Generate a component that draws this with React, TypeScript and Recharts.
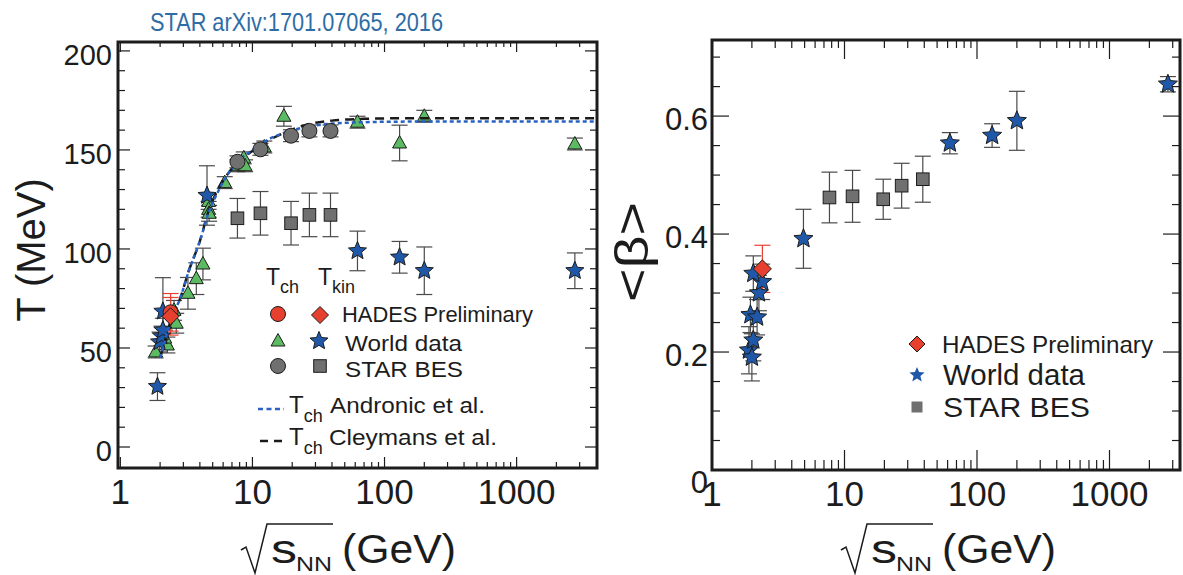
import { ScatterChart, Scatter, XAxis, YAxis, ErrorBar } from 'recharts'

const FONT = '"Liberation Sans", Arial, Helvetica, sans-serif'
const INK = '#1c1c1c'
const GREEN = '#5cba62'
const BLUE = '#1f58a8'
const RED = '#e8402f'
const GREY = '#707070'
const ERR = '#4a4a4a'

// log x ticks shared by both panels
const xTicks = [1, 2, 3, 4, 5, 6, 7, 8, 9, 10, 20, 30, 40, 50, 60, 70, 80, 90, 100, 200, 300, 400, 500, 600, 700, 800, 900, 1000, 2000, 3000]
const xLabels = [1, 10, 100, 1000]

// left panel: temperature
const tTicks = [0, 10, 20, 30, 40, 50, 60, 70, 80, 90, 100, 110, 120, 130, 140, 150, 160, 170, 180, 190, 200]
const tLabels = [0, 50, 100, 150, 200]

// T_ch world data (triangles)
const chWorldS = [1.85, 2.27, 2.17, 2.65, 2.55, 3.25, 3.76, 4.22, 4.66, 4.66, 4.7, 6.17, 7.7, 8.6, 8.8, 12.3, 17.3, 62.4, 130, 200, 2760]
const chWorldT = [48, 51.5, 55, 62.5, 69, 77.6, 85, 92.4, 124, 120, 118, 133.5, 142, 146, 142, 151.5, 167, 164, 153.5, 167, 153]
const chWorldErr = [3, 4, 4, 5, 5, 8, 8, 8, 4, 4, 4, 3, 3, 3, 3, 3, 5, 3, 9, 3, 3]

// T_kin world data (stars)
const kinWorldS = [1.91, 1.98, 2.05, 2.1, 2.1, 4.53, 62.4, 130, 200, 2760]
const kinWorldT = [30.5, 53, 56, 59, 68.5, 127, 99, 95.8, 89, 89]
const kinWorldErr = [7, 5, 5, 6, 17, 15, 10, 8, 12, 9]

// STAR BES
const besS = [7.7, 11.5, 19.6, 27, 39]
const besChT = [144, 150.3, 157.2, 159.6, 159.6]
const besChErr = [3, 3, 3, 3, 3]
const besKinT = [115.5, 118, 113, 117.2, 117.2]
const besKinErr = [10, 11, 11, 11, 11]

// HADES preliminary
const hadesS = [2.4]
const hadesChT = [68]
const hadesKinT = [66]
const hadesErr = [9.5]

// model curves
const curveS = [2.0, 2.1, 2.5, 2.8, 3.3, 4.0, 4.7, 5.6, 6.7, 8, 10, 13, 18, 25, 40, 70, 150, 400, 4000]
const andronicT = [45, 50, 67, 74, 89, 104, 119, 130, 139, 145, 150, 155, 159, 161.5, 163.3, 164, 164.3, 164.3, 164.3]
const cleymansT = [45, 50, 67, 74, 89, 104, 120, 131, 139, 144.5, 149.5, 154.5, 159, 162.5, 164.8, 165.7, 166, 166, 166]

// right panel: <beta>
const bTicks = [0, 0.05, 0.1, 0.15, 0.2, 0.25, 0.3, 0.35, 0.4, 0.45, 0.5, 0.55, 0.6, 0.65, 0.7]
const bLabels = [0, 0.2, 0.4, 0.6]

const betaWorldS = [1.9, 2.0, 2.05, 1.95, 2.19, 2.26, 2.39, 2.05, 4.9, 62.4, 130, 200, 2760]
const betaWorldB = [0.203, 0.191, 0.22, 0.263, 0.259, 0.3, 0.319, 0.333, 0.392, 0.554, 0.567, 0.592, 0.654]
const betaWorldErr = [0.04, 0.04, 0.035, 0.03, 0.03, 0.03, 0.03, 0.03, 0.05, 0.018, 0.02, 0.05, 0.013]

const betaBesB = [0.462, 0.464, 0.459, 0.482, 0.493]
const betaBesErr = [0.043, 0.044, 0.034, 0.038, 0.039]

const betaHadesB = [0.341]
const betaHadesErr = [0.04]

const zip = (xs: number[], ys: number[], es?: number[]) =>
  xs.map((x, i) => ({ x, y: ys[i], err: es ? es[i] : 0 }))

const isDecade = (v: number) => Math.abs(Math.log10(v) - Math.round(Math.log10(v))) < 1e-6

// marker shapes
function Tri({ cx, cy }: any) {
  return <polygon points={`${cx},${cy - 7.5} ${cx + 7},${cy + 5} ${cx - 7},${cy + 5}`} fill={GREEN} stroke={INK} strokeWidth={1} />
}
function Star({ cx, cy, R = 9.5, fill = BLUE, stroke = INK }: any) {
  const pts: string[] = []
  for (let k = 0; k < 10; k++) {
    const a = -Math.PI / 2 + (k * Math.PI) / 5
    const r = k % 2 === 0 ? R : R * 0.45
    pts.push(`${cx + r * Math.cos(a)},${cy + r * Math.sin(a)}`)
  }
  return <polygon points={pts.join(' ')} fill={fill} stroke={stroke} strokeWidth={1} />
}
function Dot({ cx, cy, fill = GREY }: any) {
  return <circle cx={cx} cy={cy} r={7.5} fill={fill} stroke={INK} strokeWidth={1} />
}
function Sq({ cx, cy, h = 6.3, stroke = INK }: any) {
  return <rect x={cx - h} y={cy - h} width={2 * h} height={2 * h} fill={GREY} stroke={stroke} strokeWidth={1} />
}
function Diamond({ cx, cy, h = 8.5 }: any) {
  return <polygon points={`${cx},${cy - h} ${cx + h},${cy} ${cx},${cy + h} ${cx - h},${cy}`} fill={RED} stroke={INK} strokeWidth={1} />
}
const Nothing = () => <g />

// ROOT-style inward ticks, drawn on both opposite sides of the frame
const xTick = (plotH: number, major: number, minor: number, topMajor: number, topMinor: number) => (p: any) => {
  const v = p.payload.value
  const big = isDecade(v)
  return (
    <g>
      <line x1={p.x} x2={p.x} y1={p.y} y2={p.y - (big ? major : minor)} stroke={INK} strokeWidth={1.2} />
      <line x1={p.x} x2={p.x} y1={p.y - plotH} y2={p.y - plotH + (big ? topMajor : topMinor)} stroke={INK} strokeWidth={1.2} />
      {xLabels.includes(v) && (
        <text x={p.x} y={p.y + 36} textAnchor="middle" fontSize={35} fill={INK} fontFamily={FONT}>{v}</text>
      )}
    </g>
  )
}
const yTick = (plotW: number, labels: number[], major: number, minor: number, size: number, gap: number, zeroDy: number) => (p: any) => {
  const v = p.payload.value
  const big = labels.some((l) => Math.abs(l - v) < 1e-9)
  const len = big ? major : minor
  return (
    <g>
      <line x1={p.x} x2={p.x + len} y1={p.y} y2={p.y} stroke={INK} strokeWidth={1.2} />
      <line x1={p.x + plotW} x2={p.x + plotW - len} y1={p.y} y2={p.y} stroke={INK} strokeWidth={1.2} />
      {big && (
        <text x={p.x - gap} y={p.y + (v === 0 ? zeroDy : 14)} textAnchor="end" fontSize={size} fill={INK} fontFamily={FONT}>{String(v)}</text>
      )}
    </g>
  )
}

const errProps = { dataKey: 'err', direction: 'y' as const, width: 8, stroke: ERR, strokeWidth: 1.2 }

function TempPanel() {
  return (
    <ScatterChart width={610} height={575} margin={{ top: 42, right: 13, bottom: 0, left: 0 }}>
      <XAxis dataKey="x" type="number" scale="log" domain={[0.96, 4060]} allowDataOverflow ticks={xTicks} interval={0}
        height={107} tickSize={0} tickMargin={0} tickLine={false} axisLine={false} tick={xTick(426, 11, 6, 10, 5)} />
      <YAxis dataKey="y" type="number" domain={[-10.6, 204.5]} allowDataOverflow ticks={tTicks} interval={0} width={118}
        tickSize={0} tickMargin={0} tickLine={false} axisLine={false} tick={yTick(479, tLabels, 12, 7, 29, 6, 14)} />

      <Scatter data={zip(chWorldS, chWorldT, chWorldErr)} shape={(p: any) => <Tri cx={p.cx} cy={p.cy} />} isAnimationActive={false}>
        <ErrorBar {...errProps} />
      </Scatter>
      <Scatter data={zip(kinWorldS, kinWorldT, kinWorldErr)} shape={(p: any) => <Star cx={p.cx} cy={p.cy} />} isAnimationActive={false}>
        <ErrorBar {...errProps} />
      </Scatter>
      <Scatter data={zip(curveS, cleymansT)} line={{ stroke: '#1a1a1a', strokeWidth: 2.5, strokeDasharray: '9 6' }}
        lineJointType="monotoneX" shape={Nothing} isAnimationActive={false} />
      <Scatter data={zip(curveS, andronicT)} line={{ stroke: '#2a62c4', strokeWidth: 2.5, strokeDasharray: '4 3' }}
        lineJointType="monotoneX" shape={Nothing} isAnimationActive={false} />
      <Scatter data={zip(besS, besChT, besChErr)} shape={(p: any) => <Dot cx={p.cx} cy={p.cy} />} isAnimationActive={false}>
        <ErrorBar {...errProps} />
      </Scatter>
      <Scatter data={zip(besS, besKinT, besKinErr)} shape={(p: any) => <Sq cx={p.cx} cy={p.cy} />} isAnimationActive={false}>
        <ErrorBar {...errProps} />
      </Scatter>
      <Scatter data={zip(hadesS, hadesChT, hadesErr)} shape={(p: any) => <Dot cx={p.cx} cy={p.cy} fill={RED} />} isAnimationActive={false}>
        <ErrorBar {...errProps} stroke={RED} />
      </Scatter>
      <Scatter data={zip(hadesS, hadesKinT, hadesErr)} shape={(p: any) => <Diamond cx={p.cx} cy={p.cy} />} isAnimationActive={false}>
        <ErrorBar {...errProps} stroke={RED} />
      </Scatter>
    </ScatterChart>
  )
}

function BetaPanel() {
  return (
    <ScatterChart width={573} height={575} margin={{ top: 40, right: 3, bottom: 0, left: 0 }}>
      <XAxis dataKey="x" type="number" scale="log" domain={[1, 3405]} allowDataOverflow ticks={xTicks} interval={0}
        height={105} tickSize={0} tickMargin={0} tickLine={false} axisLine={false} tick={xTick(430, 20, 10, 19, 8)} />
      <YAxis dataKey="y" type="number" domain={[0, 0.729]} allowDataOverflow ticks={bTicks} interval={0} width={102}
        tickSize={0} tickMargin={0} tickLine={false} axisLine={false} tick={yTick(468, bLabels, 17, 8, 31, 4, 23)} />

      <Scatter data={zip(besS, betaBesB, betaBesErr)} shape={(p: any) => <Sq cx={p.cx} cy={p.cy} />} isAnimationActive={false}>
        <ErrorBar {...errProps} />
      </Scatter>
      <Scatter data={zip(betaWorldS, betaWorldB, betaWorldErr)} shape={(p: any) => <Star cx={p.cx} cy={p.cy} R={10} />} isAnimationActive={false}>
        <ErrorBar {...errProps} />
      </Scatter>
      <Scatter data={zip(hadesS, betaHadesB, betaHadesErr)} shape={(p: any) => <Diamond cx={p.cx} cy={p.cy} h={9} />} isAnimationActive={false}>
        <ErrorBar {...errProps} stroke={RED} />
      </Scatter>
    </ScatterChart>
  )
}

function SqrtS({ x0 }: { x0: number }) {
  return (
    <g fontFamily={FONT} fill={INK}>
      <polyline points={`${x0},${550} ${x0 + 5},${547} ${x0 + 14},${573} ${x0 + 26},${524} ${x0 + 92},${524}`}
        fill="none" stroke={INK} strokeWidth={1.5} />
      <text x={x0 + 30} y={563} fontSize={40} textLength={26} lengthAdjust="spacingAndGlyphs">s</text>
      <text x={x0 + 55} y={571} fontSize={21} textLength={36} lengthAdjust="spacingAndGlyphs">NN</text>
      <text x={x0 + 101} y={563} fontSize={40} textLength={114} lengthAdjust="spacingAndGlyphs">(GeV)</text>
    </g>
  )
}

function Overlay() {
  return (
    <svg width={1183} height={575} style={{ position: 'absolute', left: 0, top: 0, pointerEvents: 'none' }} fontFamily={FONT}>
      <rect x={118} y={42} width={479} height={426} fill="none" stroke={INK} strokeWidth={3} />
      <rect x={712} y={40} width={468} height={430} fill="none" stroke={INK} strokeWidth={3} />

      <text x={150} y={31} fontSize={25} fill="#2f6da6" textLength={293} lengthAdjust="spacingAndGlyphs">STAR arXiv:1701.07065, 2016</text>

      <text transform="translate(45,250) rotate(-90)" textAnchor="middle" fontSize={40} fill={INK}>T (MeV)</text>
      <text transform="translate(648,252) rotate(-90)" textAnchor="middle" fontSize={46} fill={INK} textLength={100} lengthAdjust="spacingAndGlyphs">{'<β>'}</text>

      <SqrtS x0={241} />
      <SqrtS x0={841} />

      {/* left legend */}
      <g fill={INK}>
        <text x={266} y={285} fontSize={23}>T<tspan fontSize={18} dy={8}>ch</tspan></text>
        <text x={318} y={285} fontSize={23}>T<tspan fontSize={18} dy={8}>kin</tspan></text>
        <text x={342} y={322} fontSize={22} textLength={191} lengthAdjust="spacingAndGlyphs">HADES Preliminary</text>
        <text x={345} y={351} fontSize={22} textLength={117} lengthAdjust="spacingAndGlyphs">World data</text>
        <text x={345} y={377} fontSize={22} textLength={118} lengthAdjust="spacingAndGlyphs">STAR BES</text>
      </g>
      <Dot cx={278} cy={314} fill={RED} />
      <Diamond cx={320} cy={315} />
      <Tri cx={278} cy={341} />
      <Star cx={319} cy={341} />
      <Dot cx={278} cy={366} />
      <Sq cx={320} cy={366} />

      <line x1={258} x2={284} y1={409} y2={409} stroke="#2a62c4" strokeWidth={2.5} strokeDasharray="5 3.5" />
      <line x1={260} x2={284} y1={441} y2={441} stroke="#1a1a1a" strokeWidth={2.5} strokeDasharray="8 6" />
      <g fill={INK}>
        <text x={289} y={413} fontSize={24}>T<tspan fontSize={18} dy={9}>ch</tspan></text>
        <text x={330} y={413} fontSize={22} textLength={155} lengthAdjust="spacingAndGlyphs">Andronic et al.</text>
        <text x={289} y={445} fontSize={24}>T<tspan fontSize={18} dy={9}>ch</tspan></text>
        <text x={329} y={445} fontSize={22} textLength={168} lengthAdjust="spacingAndGlyphs">Cleymans et al.</text>
      </g>

      {/* right legend */}
      <Diamond cx={917} cy={344} h={8} />
      <Star cx={917} cy={375} R={8} stroke="none" />
      <Sq cx={917} cy={407} h={5.5} stroke="none" />
      <g fill={INK}>
        <text x={942} y={353} fontSize={24} textLength={211} lengthAdjust="spacingAndGlyphs">HADES Preliminary</text>
        <text x={943} y={385} fontSize={30} textLength={142} lengthAdjust="spacingAndGlyphs">World data</text>
        <text x={943} y={417} fontSize={28} textLength={147} lengthAdjust="spacingAndGlyphs">STAR BES</text>
      </g>
    </svg>
  )
}

export default function App() {
  return (
    <div style={{ position: 'absolute', left: 0, top: 0, width: 1183, height: 575, background: '#fff', fontFamily: FONT }}>
      <div style={{ position: 'absolute', left: 0, top: 0 }}>
        <TempPanel />
      </div>
      <div style={{ position: 'absolute', left: 610, top: 0 }}>
        <BetaPanel />
      </div>
      <Overlay />
    </div>
  )
}
